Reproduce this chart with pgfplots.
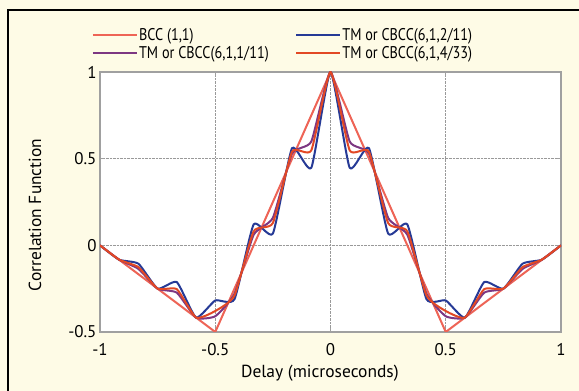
\documentclass[border=0pt]{standalone}
\usepackage{fontspec}
\setmainfont{PT Sans}
\newfontfamily\legfont{PT Sans}[FakeStretch=0.84]
\usepackage{pgfplots}
\pgfplotsset{compat=1.18}
\definecolor{cream}{RGB}{254,251,230}
\definecolor{bccc}{RGB}{238,100,86}
\definecolor{tmblue}{RGB}{38,58,150}
\definecolor{tmpurple}{RGB}{125,55,130}
\definecolor{tmorange}{RGB}{226,72,36}
\definecolor{axgray}{RGB}{160,160,160}
\begin{document}
\begin{tikzpicture}
\fill[cream] (0,0) rectangle (579bp,391bp);
\useasboundingbox (0,0) rectangle (579bp,391bp);
\draw[black, line width=1.2bp] (8bp,-5bp) -- (8bp,381bp) -- (590bp,381bp);
\begin{axis}[
  at={(100bp,59bp)}, anchor=south west,
  width=461bp, height=260bp, scale only axis,
  xmin=-1, xmax=1, ymin=-0.5, ymax=1,
  xtick={-1,-0.5,0,0.5,1}, ytick={-0.5,0,0.5,1},
  axis background/.style={fill=white},
  grid=major,
  grid style={densely dotted, color=gray!80, line width=1bp},
  axis line style={axgray, line width=1.6bp},
  tick style={axgray, line width=0.8bp},
  major tick length=4bp,
  /pgf/number format/assume math mode=true,
  ticklabel style={font=\fontsize{17}{20}\selectfont},
  xticklabel style={yshift=-8bp},
  xlabel={Delay (microseconds)},
  ylabel={Correlation Function},
  label style={font=\fontsize{17.5}{21}\selectfont},
  xlabel style={at={(axis description cs:0.477,-0.158)}, anchor=center},
  ylabel style={at={(axis description cs:-0.141,0.45)}, anchor=center},
  legend columns=2,
  legend cell align=left,
  legend style={at={(rel axis cs:-0.025,1.18)}, anchor=north west, draw=none, fill=none,
    font=\legfont\fontsize{17}{18}\selectfont,
    nodes={inner sep=1.2bp},
    /tikz/row sep=2bp,
    /tikz/every even column/.append style={column sep=25bp}},
  legend image code/.code={\draw[#1, line width=2.2bp] (0bp,0bp) -- (44bp,0bp);},
  every axis plot/.append style={line width=2bp, line join=round},
]
\addplot[bccc] coordinates {(-1,0) (-0.5,-0.5) (0,1) (0.5,-0.5) (1,0)};
\addlegendentry{BCC (1,1)}
\addplot[tmblue, smooth, tension=0.3] coordinates {
(-1,0) (-0.9167,-0.083) (-0.8333,-0.106) (-0.75,-0.25) (-0.6667,-0.212) (-0.5833,-0.417) (-0.5,-0.318) (-0.4167,-0.311) (-0.3333,0.121) (-0.25,0.068) (-0.1667,0.561) (-0.0833,0.447) (0,1)
(0.0833,0.447) (0.1667,0.561) (0.25,0.068) (0.3333,0.121) (0.4167,-0.311) (0.5,-0.318) (0.5833,-0.417) (0.6667,-0.212) (0.75,-0.25) (0.8333,-0.106) (0.9167,-0.083) (1,0)};
\addlegendentry{TM or CBCC(6,1,2/11)}
\addplot[tmpurple, smooth, tension=0.3] coordinates {
(-1,0) (-0.9167,-0.083) (-0.8333,-0.136) (-0.75,-0.25) (-0.6667,-0.273) (-0.5833,-0.417) (-0.5,-0.409) (-0.4167,-0.280) (-0.3333,0.061) (-0.25,0.159) (-0.1667,0.530) (-0.0833,0.599) (0,1)
(0.0833,0.599) (0.1667,0.530) (0.25,0.159) (0.3333,0.061) (0.4167,-0.280) (0.5,-0.409) (0.5833,-0.417) (0.6667,-0.273) (0.75,-0.25) (0.8333,-0.136) (0.9167,-0.083) (1,0)};
\addlegendentry{TM or CBCC(6,1,1/11)}
\addplot[tmorange, smooth, tension=0.3] coordinates {
(-1,0) (-0.9167,-0.083) (-0.8333,-0.126) (-0.75,-0.25) (-0.6667,-0.253) (-0.5833,-0.417) (-0.5,-0.379) (-0.4167,-0.290) (-0.3333,0.081) (-0.25,0.129) (-0.1667,0.540) (-0.0833,0.548) (0,1)
(0.0833,0.548) (0.1667,0.540) (0.25,0.129) (0.3333,0.081) (0.4167,-0.290) (0.5,-0.379) (0.5833,-0.417) (0.6667,-0.253) (0.75,-0.25) (0.8333,-0.126) (0.9167,-0.083) (1,0)};
\addlegendentry{TM or CBCC(6,1,4/33)}
\end{axis}
\end{tikzpicture}
\end{document}
